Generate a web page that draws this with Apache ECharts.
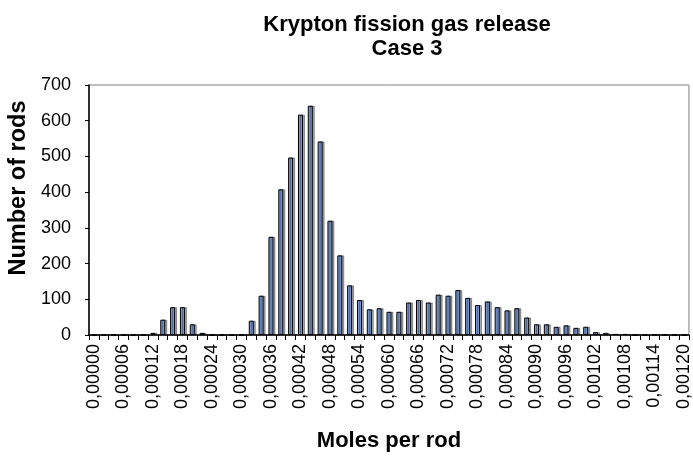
<!DOCTYPE html>
<html>
<head>
<meta charset="utf-8">
<script src="https://cdn.jsdelivr.net/npm/echarts@6/dist/echarts.min.js"></script>
<style>
  html, body { margin: 0; padding: 0; background: #fff; }
  #chart { width: 693px; height: 464px; }
</style>
</head>
<body>
<div id="chart"></div>
<script>
// Mole bins (category axis), one bar per bin
const categories = [
  '0,00000', '0,00002', '0,00004', '0,00006', '0,00008', '0,00010',
  '0,00012', '0,00014', '0,00016', '0,00018', '0,00020', '0,00022',
  '0,00024', '0,00026', '0,00028', '0,00030', '0,00032', '0,00034',
  '0,00036', '0,00038', '0,00040', '0,00042', '0,00044', '0,00046',
  '0,00048', '0,00050', '0,00052', '0,00054', '0,00056', '0,00058',
  '0,00060', '0,00062', '0,00064', '0,00066', '0,00068', '0,00070',
  '0,00072', '0,00074', '0,00076', '0,00078', '0,00080', '0,00082',
  '0,00084', '0,00086', '0,00088', '0,00090', '0,00092', '0,00094',
  '0,00096', '0,00098', '0,00100', '0,00102', '0,00104', '0,00106',
  '0,00108', '0,00110', '0,00112', '0,00114', '0,00116', '0,00118',
  '0,00120'
]

// Number of rods per bin
const rodCounts = [
  0, 0, 0, 0, 0, 0,
  6, 43, 78, 78, 30, 6,
  0, 0, 0, 0, 40, 110,
  275, 408, 497, 617, 642, 542,
  320, 223, 139, 98, 72, 75,
  65, 65, 91, 98, 91, 113,
  110, 126, 104, 84, 94, 78,
  69, 75, 49, 30, 30, 23,
  27, 20, 23, 8, 6, 3,
  3, 0, 0, 0, 0, 0,
  0
]

const yMax = 700
const yStep = 100

const chart = echarts.init(document.getElementById('chart'))

const font = 'Liberation Sans, Arial, sans-serif'

chart.setOption({
  animation: false,
  title: {
    text: 'Krypton fission gas release\nCase 3',
    left: 402,
    top: 8,
    textAlign: 'center',
    textStyle: { fontFamily: font, fontSize: 22, fontWeight: 'bold', color: '#000', lineHeight: 24 }
  },
  // y axis title sits a bit above the plot's middle, like the original
  graphic: [{
    type: 'text',
    x: 19,
    y: 188,
    rotation: Math.PI / 2,
    style: {
      text: 'Number of rods',
      fontFamily: font, fontSize: 23.5, fontWeight: 'bold', fill: '#000',
      align: 'center', verticalAlign: 'middle'
    }
  }],
  grid: {
    left: 89, right: 1, top: 85, bottom: 129,
    show: true, borderColor: '#808080', borderWidth: 1
  },
  xAxis: {
    type: 'category',
    data: categories,
    name: 'Moles per rod',
    nameLocation: 'middle',
    nameGap: 95,
    nameTextStyle: { fontFamily: font, fontSize: 22, fontWeight: 'bold', color: '#000' },
    axisLine: { lineStyle: { color: '#000', width: 1.5 } },
    axisTick: { show: true, interval: 0, length: 5, lineStyle: { color: '#000' } },
    axisLabel: {
      interval: 2, rotate: 90, margin: 9,
      fontFamily: font, fontSize: 18, color: '#000'
    }
  },
  yAxis: {
    type: 'value',
    min: 0, max: yMax, interval: yStep,
    axisLine: { show: true, lineStyle: { color: '#000', width: 1.5 } },
    axisTick: { show: true, length: 4, lineStyle: { color: '#000' } },
    axisLabel: { fontFamily: font, fontSize: 18, color: '#000', margin: 18 },
    splitLine: { show: false }
  },
  series: [{
    type: 'bar',
    data: rodCounts,
    barWidth: 5,
    itemStyle: {
      color: '#7b9bd6',
      borderColor: '#000',
      borderWidth: 1,
      shadowColor: 'rgba(0,0,0,0.35)',
      shadowOffsetX: 2,
      shadowOffsetY: 0,
      shadowBlur: 0
    }
  }]
})
</script>
</body>
</html>
